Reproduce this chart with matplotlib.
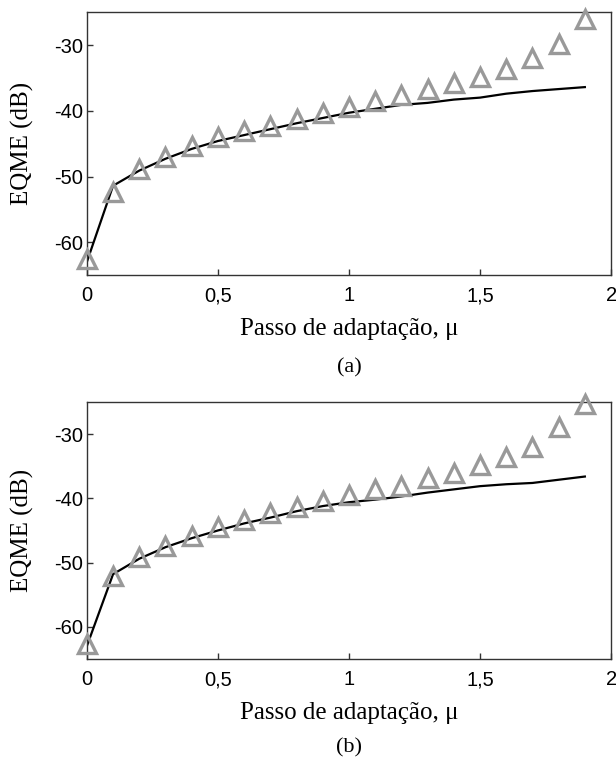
"""EQME vs passo de adaptação: teoria (linha) e simulação (triângulos), painéis (a) e (b)."""

import matplotlib
matplotlib.use("Agg")
import matplotlib.pyplot as plt  # noqa: E402

MU = [0.0, 0.1, 0.2, 0.3, 0.4, 0.5, 0.6, 0.7, 0.8, 0.9,
      1.0, 1.1, 1.2, 1.3, 1.4, 1.5, 1.6, 1.7, 1.8, 1.9]

# painel (a)
SIM_A = [-62.5, -52.3, -48.8, -47.0, -45.4, -44.0, -43.1, -42.3, -41.3, -40.4,
         -39.5, -38.5, -37.6, -36.7, -35.7, -34.8, -33.6, -32.0, -29.9, -26.0]
TEO_A = [-63.0, -51.4, -49.1, -47.3, -45.8, -44.6, -43.7, -42.8, -41.9, -41.1,
         -40.3, -39.7, -39.1, -38.8, -38.3, -38.0, -37.4, -37.0, -36.7, -36.4]

# painel (b)
SIM_B = [-62.7, -52.1, -49.2, -47.4, -45.9, -44.5, -43.3, -42.3, -41.3, -40.4,
         -39.5, -38.5, -38.0, -36.9, -36.1, -34.8, -33.6, -32.0, -28.9, -25.3]
TEO_B = [-63.0, -51.8, -49.4, -47.6, -46.2, -45.0, -43.9, -43.0, -42.0, -41.2,
         -40.6, -40.2, -39.7, -39.1, -38.6, -38.1, -37.8, -37.6, -37.1, -36.6]

XTICKS = [0, 0.5, 1, 1.5, 2]
XTICKLABELS = ["0", "0,5", "1", "1,5", "2"]
YTICKS = [-60, -50, -40, -30]

SANS = "Liberation Sans"
SERIF = "Liberation Serif"
GRAY = "#999999"


def painel(fig, rect, teo, sim, tag, tag_y):
    ax = fig.add_axes(rect)
    ax.plot(MU, teo, color="black", lw=1.6, zorder=2)
    ax.plot(MU, sim, linestyle="none", marker="^", ms=13, mfc="none",
            mec=GRAY, mew=2.4, zorder=3, clip_on=False)
    ax.set_xlim(0, 2)
    ax.set_ylim(-65, -25)
    ax.set_xticks(XTICKS)
    ax.set_xticklabels(XTICKLABELS, fontfamily=SANS, fontsize=14.5)
    ax.set_yticks(YTICKS)
    ax.set_yticklabels([str(v) for v in YTICKS], fontfamily=SANS, fontsize=14.5)
    ax.tick_params(direction="in", length=4.5, width=1, color="#333333")
    ax.tick_params(axis="x", pad=8)
    ax.tick_params(axis="y", pad=3)
    for s in ax.spines.values():
        s.set_color("#333333"); s.set_linewidth(1.0)
    ax.set_xlabel("Passo de adaptação, μ", fontfamily=SERIF, fontsize=18, labelpad=9)
    ax.set_ylabel("EQME (dB)", fontfamily=SERIF, fontsize=18, labelpad=14)
    x_mid = rect[0] + rect[2] / 2
    fig.text(x_mid, tag_y, tag, ha="center", va="center", fontfamily=SERIF, fontsize=16)
    return ax


fig = plt.figure(figsize=(6.16, 7.6), dpi=100)
painel(fig, [0.141, 0.638, 0.851, 0.346], TEO_A, SIM_A, "(a)", 0.516)
painel(fig, [0.141, 0.133, 0.851, 0.338], TEO_B, SIM_B, "(b)", 0.016)
fig.savefig("out.png", dpi=100)
